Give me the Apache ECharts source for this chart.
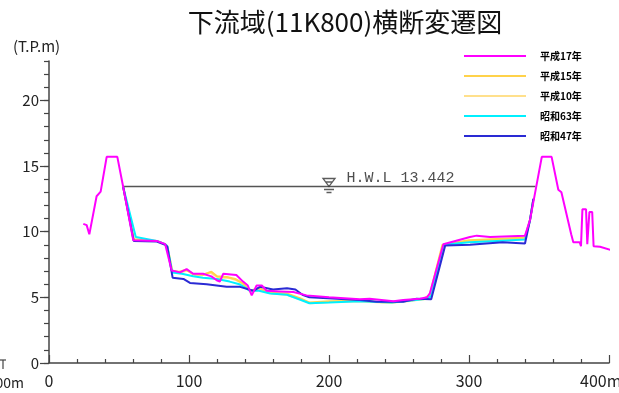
<!DOCTYPE html>
<html><head><meta charset="utf-8">
<script src="https://cdn.jsdelivr.net/npm/echarts@6/dist/echarts.min.js"></script>
<style>html,body{margin:0;padding:0;background:#fff}#c{width:619px;height:393px}</style>
</head><body><div id="c"></div>
<script>
const chartTitle = '下流域(11K800)横断変遷図';
const yAxisTitle = '(T.P.m)';
const seriesNames = ['平成17年', '平成15年', '平成10年', '昭和63年', '昭和47年'];
const xTickLabels = ['0', '100', '200', '300', '400m'];
const yTickLabels = ['0', '5', '10', '15', '20'];

// [distance (m), elevation T.P.m]
const h17 = [[24.5,10.6],[26.9,10.5],[28.8,9.8],[34,12.7],[36.9,13.05],[41.2,15.7],[48.8,15.7],[53,13.4],[60.2,9.35],
  [77,9.3],[83,9.05],[84,8.9],[87.6,7.05],[93.6,6.9],[98.3,7.15],[103,6.8],[110,6.8],[116,6.6],[119.8,6.3],[122,6.2],
  [124.5,6.8],[133.8,6.7],[138.6,6.2],[142,5.9],[144.8,5.15],[148.3,5.9],[152,5.9],[155.5,5.5],[165,5.45],[174.5,5.4],
  [184,5.15],[200,5.0],[222,4.85],[229,4.9],[246,4.7],[253,4.8],[265,4.9],[270,5.0],[272,5.3],[281.7,9.05],[300.7,9.6],
  [305.5,9.7],[315,9.6],[340,9.7],[343.6,10.9],[352,15.7],[359,15.7],[363.8,13.2],[366,13.0],[373,9.8],[374.5,9.2],
  [379,9.2],[380,8.9],[381,11.7],[383.6,11.7],[384.5,9.05],[386,11.5],[388,11.5],[389,8.9],[393.6,8.85],[403,8.55]];
const h15 = [[53,13.4],[60.5,9.4],[77,9.3],[83,9.05],[84.5,8.9],[88,7.0],[93,6.95],[98,7.1],[103,6.75],[110,6.7],
  [116,6.95],[120,6.6],[127,6.55],[133,6.4],[138,6.1],[143.6,5.5],[150,5.7],[158,5.35],[170,5.3],[180,4.9],[186,4.6],
  [200,4.7],[222,4.75],[236,4.65],[245,4.6],[260,4.8],[268,4.9],[272,5.2],[281,9.0],[300,9.35],[320,9.45],[340,9.55],
  [343.6,10.9],[346,12.5]];
const h10 = [[53,13.4],[60.8,9.45],[77,9.3],[83,9.05],[84.5,8.9],[88,7.05],[94,6.9],[99,7.05],[104,6.7],[110,6.75],
  [115,6.9],[121,6.5],[128,6.5],[134,6.3],[139,6.0],[144,5.4],[151,5.6],[159,5.3],[170,5.2],[181,4.8],[187,4.55],
  [200,4.65],[222,4.7],[238,4.6],[246,4.6],[260,4.75],[268,4.85],[272,5.1],[281.5,9.0],[300,9.3],[320,9.4],[340,9.5],
  [343.6,10.9],[346,12.5]];
const s63 = [[53,13.4],[62,9.6],[77,9.3],[83,9.05],[84.5,8.9],[88,6.9],[95,6.8],[103,6.6],[110,6.5],[120,6.4],[129,6.2],
  [136,6.0],[143.6,5.5],[150,5.5],[158,5.3],[170,5.2],[180,4.8],[186,4.55],[200,4.6],[222,4.7],[245,4.6],[262,4.8],
  [270,4.9],[273,5.1],[282,9.0],[300,9.2],[320,9.3],[340,9.4],[343.6,10.9],[346,12.5]];
const s47 = [[53,13.4],[60.5,9.3],[77,9.25],[83,9.0],[84.5,8.85],[88.3,6.5],[96,6.4],[100.7,6.1],[112.6,6.0],[126.9,5.8],
  [136.4,5.8],[146,5.5],[150.7,5.8],[160,5.6],[170,5.7],[176,5.6],[181,5.2],[186,5.0],[222,4.8],[234,4.67],[253,4.67],
  [262.6,4.9],[273,4.85],[283,8.95],[300.7,9.0],[324,9.2],[340,9.1],[343.6,10.9],[346,12.5]];

const hwlLevel = 13.442;
const hwlExtent = [53, 347.5];
const hwlMarkX = 200;
const hwlLabel = 'H.W.L 13.442';
const sideLabel = '-100m';
const yMajorTicks = [0, 5, 10, 15, 20];

const FONT = '"Noto Sans CJK JP", "Noto Sans", sans-serif';
const chart = echarts.init(document.getElementById('c'), null, {renderer: 'canvas'});
const profile = (name, data, color, z, extra) => Object.assign({
  name, type: 'line', data, z, symbol: 'none', smooth: false,
  lineStyle: {color, width: 2}, itemStyle: {color}, silent: true
}, extra || {});

chart.setOption({
  animation: false,
  backgroundColor: '#fff',
  title: {text: chartTitle, left: 340, top: 4, textAlign: 'center',
    textStyle: {fontFamily: FONT, fontSize: 26, fontWeight: 'normal', color: '#111'}},
  legend: {
    data: seriesNames, orient: 'vertical', left: 464, top: 50, padding: 0,
    icon: 'rect', itemWidth: 62, itemHeight: 2, itemGap: 8,
    textStyle: {fontFamily: FONT, fontSize: 10, fontWeight: 'bold', color: '#000', lineHeight: 12, padding: [0,0,0,9]}
  },
  grid: {left: 49, right: 10, top: 61, bottom: 30, containLabel: false, outerBoundsMode: 'none'},
  xAxis: {
    type: 'value', min: 0, max: 400, interval: 100,
    axisLine: {lineStyle: {color: '#444', width: 1.5}},
    axisTick: {inside: true, length: 8, lineStyle: {color: '#444', width: 1.2}},
    minorTick: {show: true, splitNumber: 5, length: 4, lineStyle: {color: '#444', width: 1.2}},
    splitLine: {show: false},
    axisLabel: {
      margin: 10, fontFamily: FONT, fontSize: 16, color: '#222',
      formatter: v => { const i = Math.round(v / 100); return i === 4 ? '{m|' + xTickLabels[i] + '}' : xTickLabels[i]; },
      rich: {m: {width: 58, align: 'left', fontFamily: FONT, fontSize: 16, color: '#222'}}
    }
  },
  yAxis: [{
    type: 'value', min: 0, max: 23, interval: 1,
    axisLine: {show: true, lineStyle: {color: '#444', width: 1.5}},
    axisTick: {show: true, length: 5, lineStyle: {color: '#444', width: 1.2}},
    splitLine: {show: false},
    axisLabel: {margin: 10, fontFamily: FONT, fontSize: 15, color: '#222',
      formatter: v => (v % 5 === 0 ? yTickLabels[v / 5] : '')}
  }, {
    type: 'value', min: 0, max: 23, position: 'left', offset: 0,
    axisLine: {show: false},
    axisTick: {show: true, length: 9, customValues: yMajorTicks, lineStyle: {color: '#444', width: 1.2}},
    axisLabel: {show: false},
    splitLine: {show: false}
  }],
  series: [
    profile(seriesNames[0], h17, '#ff00ff', 10, {clip: false}),
    profile(seriesNames[1], h15, '#ffd24a', 6),
    profile(seriesNames[2], h10, '#ffe08c', 5),
    profile(seriesNames[3], s63, '#00f0ff', 7),
    profile(seriesNames[4], s47, '#2a2ad4', 8),
    {type: 'line', name: 'HWL', data: hwlExtent.map(x => [x, hwlLevel]), symbol: 'none', z: 3, silent: true,
      lineStyle: {color: '#555', width: 1.5}},
    {type: 'scatter', name: 'HWLmark', data: [[hwlMarkX, hwlLevel]], z: 12, silent: true,
      symbol: 'path://M0,0 L0,0 M1,0 L13,0 L7,8 Z M3.5,3.5 L10.5,3.5 M2,11 L12,11 M4.5,14 L9.5,14 M14,16 L14,16',
      symbolSize: [14, 16],
      itemStyle: {color: 'rgba(0,0,0,0)', borderColor: '#333', borderWidth: 1.3},
      label: {show: true, position: 'right', distance: 10, offset: [0, -8], formatter: hwlLabel,
        fontFamily: '"Liberation Mono", monospace', fontSize: 15, color: '#222'}}
  ],
  graphic: [
    {type: 'text', left: 13, top: 39, style: {text: yAxisTitle, fontFamily: FONT, fontSize: 15, fill: '#222'}},
    {type: 'text', style: {text: sideLabel, x: 24, y: 383, align: 'right', verticalAlign: 'middle', fontFamily: FONT, fontSize: 14, fill: '#222'}},
    {type: 'line', shape: {x1: 3, y1: 360, x2: 3, y2: 369}, style: {stroke: '#444', lineWidth: 1.2}},
    {type: 'line', shape: {x1: 0, y1: 360, x2: 6, y2: 360}, style: {stroke: '#444', lineWidth: 1.2}}
  ]
});
</script></body></html>
